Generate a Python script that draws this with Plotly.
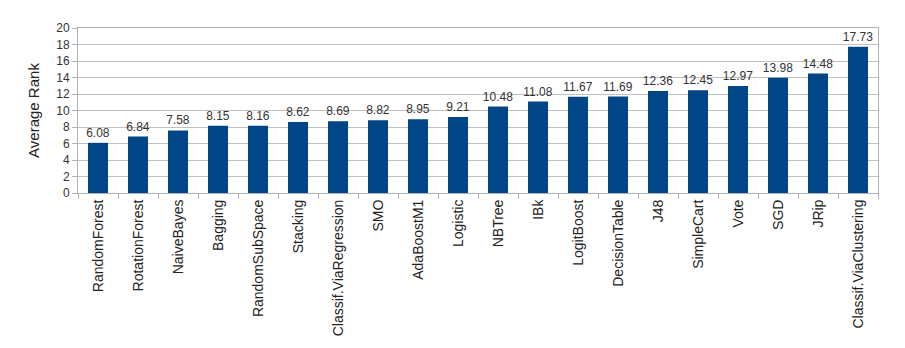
import plotly.graph_objects as go

categories = ["RandomForest", "RotationForest", "NaiveBayes", "Bagging", "RandomSubSpace",
              "Stacking", "Classif.ViaRegression", "SMO", "AdaBoostM1", "Logistic",
              "NBTree", "IBk", "LogitBoost", "DecisionTable", "J48", "SimpleCart",
              "Vote", "SGD", "JRip", "Classif.ViaClustering"]
values = [6.08, 6.84, 7.58, 8.15, 8.16, 8.62, 8.69, 8.82, 8.95, 9.21,
          10.48, 11.08, 11.67, 11.69, 12.36, 12.45, 12.97, 13.98, 14.48, 17.73]
y_ticks = list(range(0, 21, 2))

font = "Liberation Sans, Arial, sans-serif"

fig = go.Figure(go.Bar(
    x=categories, y=values,
    marker=dict(color="#004586", line=dict(width=0)),
    width=0.5,
    text=[f"{v:.2f}" for v in values],
    textposition="outside",
    constraintext="none",
    textfont=dict(family=font, size=12, color="#333333"),
    cliponaxis=False,
))

fig.update_layout(
    width=905, height=348,
    margin=dict(l=78, r=27, t=28, b=155),
    paper_bgcolor="white", plot_bgcolor="white",
    showlegend=False,
    font=dict(family=font, color="#333333"),
    bargap=0.5,
)
fig.update_xaxes(
    tickangle=-90, tickfont=dict(size=14, color="#222222"),
    ticks="outside", ticklen=5, tickcolor="#b3b3b3", tickson="boundaries",
    showline=True, linecolor="#b3b3b3", linewidth=1, mirror=True,
    showgrid=False,
)
fig.update_yaxes(
    range=[0, 20], tickvals=y_ticks,
    tickfont=dict(size=12, color="#333333"),
    ticks="outside", ticklen=5, tickcolor="#b3b3b3",
    showline=True, linecolor="#b3b3b3", linewidth=1, mirror=True,
    showgrid=True, gridcolor="#c0c0c0", gridwidth=1,
    title=dict(text="Average Rank", font=dict(size=15, color="#222222"), standoff=12),
    zeroline=False,
)

fig.write_html("out.html")
